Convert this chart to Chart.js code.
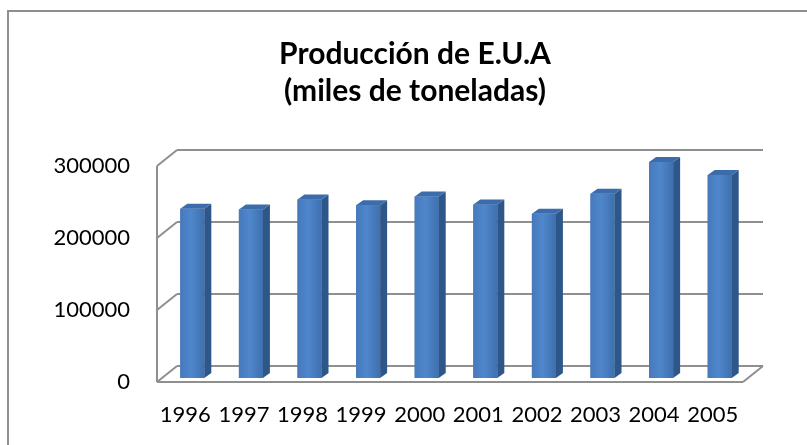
<!DOCTYPE html>
<html>
<head>
<meta charset="utf-8">
<script src="https://cdn.jsdelivr.net/npm/chart.js@4.4.0/dist/chart.umd.min.js"></script>
<style>
  html, body { margin: 0; padding: 0; background: #fff; overflow: hidden; }
  #wrap { width: 807px; height: 445px; }
</style>
</head>
<body>
<div id="wrap"><canvas id="grafico"></canvas></div>
<script>
const anos = ['1996', '1997', '1998', '1999', '2000', '2001', '2002', '2003', '2004', '2005'];
const produccion = [235000, 234000, 248000, 240000, 252000, 241000, 228000, 256000, 300000, 282000];
const ticksY = [0, 100000, 200000, 300000];

const fuente = "Lato, 'Liberation Sans', sans-serif";
const gris = '#8f8f8f';

// desplazamientos del plano frontal y del fondo respecto al plano de las barras
const frente = { dx: -6, dy: 4 };
const fondo = { dx: 14, dy: -12 };
const prof = { dx: 7, dy: -5 };

function linea(ctx, x1, y1, x2, y2) {
    ctx.beginPath();
    ctx.moveTo(x1, y1);
    ctx.lineTo(x2, y2);
    ctx.stroke();
}

const caja3d = {
    id: 'caja3d',
    afterLayout(chart) {
        // el eje Y ocupa desde el borde para que sus etiquetas no se recorten
        chart.scales.y.left = 0;
    },
    beforeDraw(chart) {
        const ctx = chart.ctx;
        ctx.save();
        ctx.strokeStyle = gris;
        ctx.lineWidth = 2;
        ctx.strokeRect(8, 11, 820, 460);
        ctx.restore();
    },
    beforeDatasetsDraw(chart) {
        const ctx = chart.ctx;
        const a = chart.chartArea;
        const y = chart.scales.y;
        ctx.save();
        ctx.strokeStyle = gris;
        ctx.lineWidth = 2;
        ticksY.forEach(v => {
            const py = y.getPixelForValue(v);
            linea(ctx, a.left + fondo.dx, py + fondo.dy, a.right + fondo.dx, py + fondo.dy);
            linea(ctx, a.left + frente.dx, py + frente.dy, a.left + fondo.dx, py + fondo.dy);
        });
        // pared lateral y piso
        linea(ctx, a.left + frente.dx, a.top + frente.dy, a.left + frente.dx, a.bottom + frente.dy);
        linea(ctx, a.left + frente.dx, a.bottom + frente.dy, a.right + frente.dx, a.bottom + frente.dy);
        linea(ctx, a.right + frente.dx, a.bottom + frente.dy, a.right + fondo.dx, a.bottom + fondo.dy);
        ctx.restore();
    },
    afterDatasetsDraw(chart) {
        const ctx = chart.ctx;
        const meta = chart.getDatasetMeta(0);
        ctx.save();
        meta.data.forEach(bar => {
            const w = bar.width / 2;
            const x1 = bar.x - w, x2 = bar.x + w;
            // cara frontal con degradado
            const g = ctx.createLinearGradient(x1, 0, x2, 0);
            g.addColorStop(0, '#4679bb');
            g.addColorStop(0.45, '#4f87cc');
            g.addColorStop(1, '#3f6fae');
            ctx.fillStyle = g;
            ctx.fillRect(x1, bar.y, x2 - x1, bar.base - bar.y);
            // lado
            ctx.fillStyle = '#2e5789';
            ctx.beginPath();
            ctx.moveTo(x2, bar.y);
            ctx.lineTo(x2 + prof.dx, bar.y + prof.dy);
            ctx.lineTo(x2 + prof.dx, bar.base + prof.dy);
            ctx.lineTo(x2, bar.base);
            ctx.closePath();
            ctx.fill();
            // tapa
            ctx.fillStyle = '#3c6cab';
            ctx.beginPath();
            ctx.moveTo(x1, bar.y);
            ctx.lineTo(x1 + prof.dx, bar.y + prof.dy);
            ctx.lineTo(x2 + prof.dx, bar.y + prof.dy);
            ctx.lineTo(x2, bar.y);
            ctx.closePath();
            ctx.fill();
        });
        ctx.restore();
    }
};

const ctx = document.getElementById('grafico').getContext('2d');
const grafico = new Chart(ctx, {
    type: 'bar',
    data: {
        labels: anos,
        datasets: [{
            label: 'Producción',
            data: produccion,
            backgroundColor: '#4a7fbf',
            barPercentage: 0.41,
            categoryPercentage: 1
        }]
    },
    options: {
        responsive: true,
        maintainAspectRatio: false,
        animation: false,
        layout: { padding: { left: 81, right: 58, top: 0, bottom: 0 } },
        plugins: {
            legend: { display: false },
            tooltip: { enabled: false },
            title: {
                display: true,
                text: ['Producción de E.U.A', '(miles de toneladas)'],
                color: '#000',
                font: { family: fuente, size: 30, weight: 'bold', lineHeight: 1.233 },
                padding: { top: 36, bottom: 52 }
            }
        },
        scales: {
            x: {
                grid: { display: false, drawTicks: false },
                border: { display: false },
                afterFit(scale) { scale.height = 67; },
                ticks: {
                    color: '#000',
                    font: { family: fuente, size: 22, lineHeight: 1.2 },
                    padding: 24,
                    labelOffset: -7,
                    maxRotation: 0,
                    autoSkip: false
                }
            },
            y: {
                min: 0,
                max: 300000,
                grid: { display: false, drawTicks: false },
                border: { display: false },
                afterFit(scale) { scale.width = 82; },
                ticks: {
                    stepSize: 100000,
                    color: '#000',
                    font: { family: fuente, size: 22 },
                    padding: 33,
                    labelOffset: 4,
                    callback: v => String(v)
                }
            }
        }
    },
    plugins: [caja3d]
});
</script>
</body>
</html>
